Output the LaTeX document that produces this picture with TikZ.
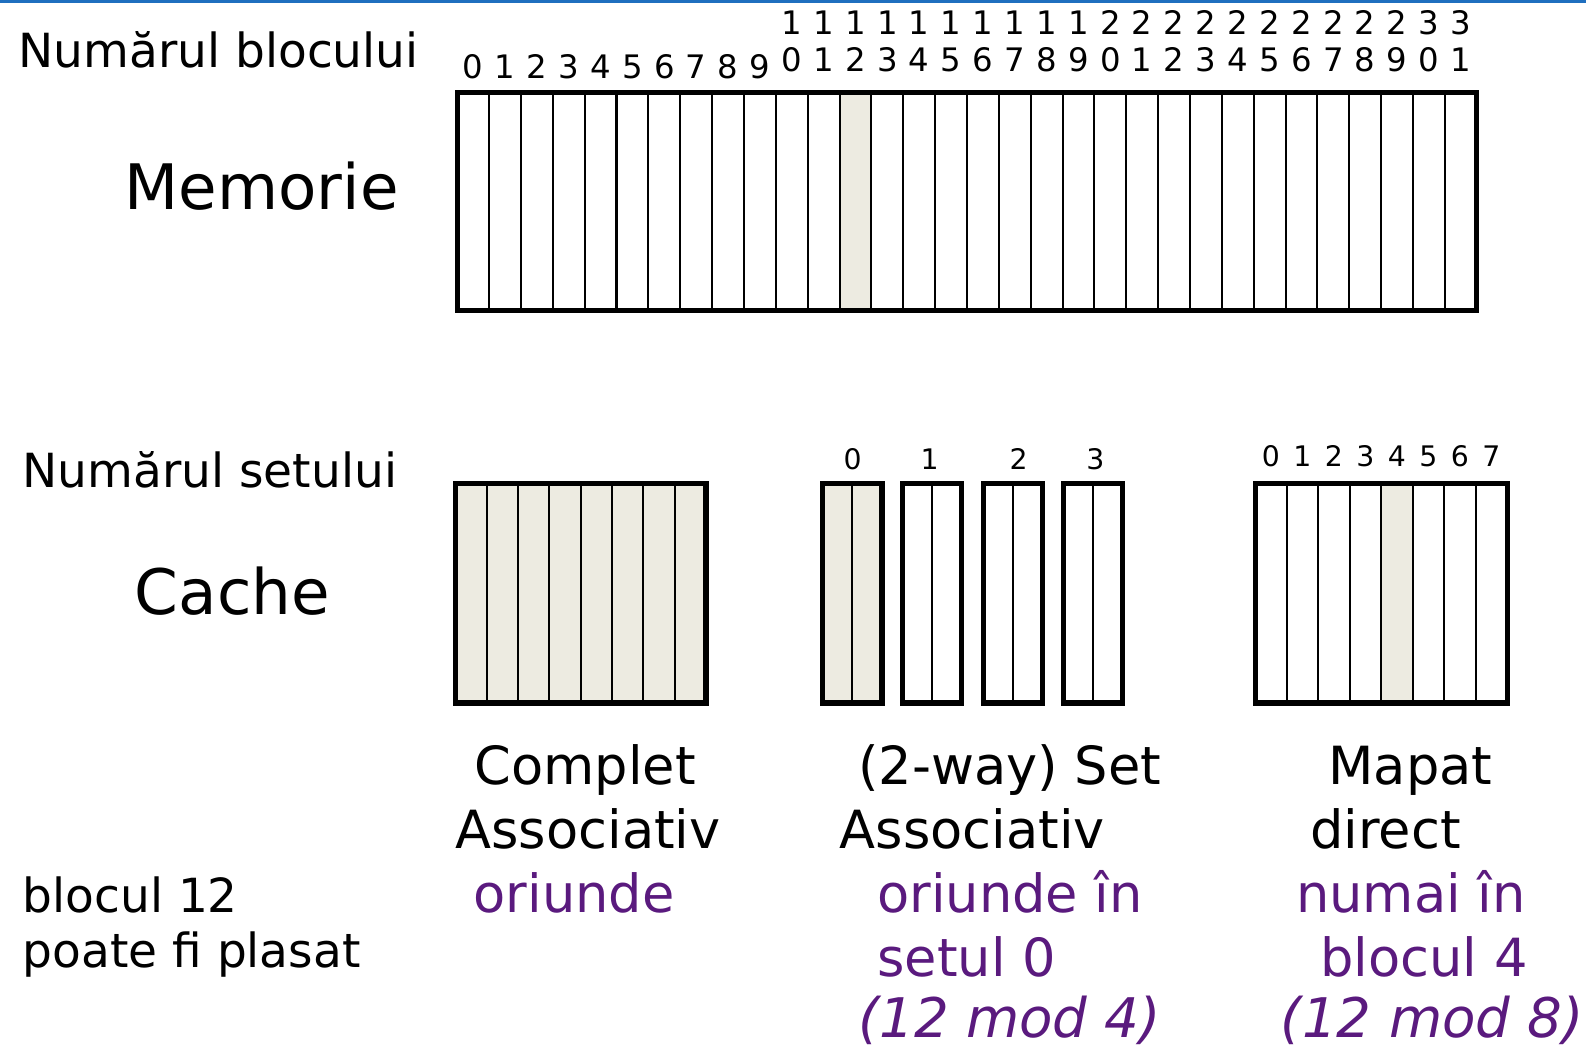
\documentclass[tikz,border=0pt]{standalone}
\usepackage{fontspec}
\setmainfont{DejaVu Sans}
\usepackage{tikz}
\usetikzlibrary{positioning}
\usepackage{xcolor}
\definecolor{hit}{HTML}{EDEBE1}
\definecolor{plum}{HTML}{5A1A7E}
\definecolor{topbar}{HTML}{1F6FBF}

\begin{document}
\begin{tikzpicture}[x=0.5pt,y=-0.5pt,
  txt/.style={inner sep=0pt, anchor=base west, font=\fontsize{23.25}{27}\selectfont},
  big/.style={inner sep=0pt, anchor=base west, font=\fontsize{31}{36}\selectfont},
  head/.style={inner sep=0pt, anchor=base west, font=\fontsize{26}{31}\selectfont},
  where/.style={head, text=plum},
  slant/.style={where, font=\fontsize{27}{31}\selectfont\itshape},
  num/.style={inner sep=0pt, anchor=base, font=\fontsize{14}{17}\selectfont},
  memnum/.style={num, font=\fontsize{16}{19}\selectfont},
  frame/.style={draw, line width=2.5pt},
  cell/.style={draw, line width=1pt}]
\useasboundingbox (0,0) rectangle (1568,1037);
\fill[topbar] (0,0) rectangle (1568,3);

% memorie
\node[txt] (nrbloc) at (18,67) {Numărul blocului};
\node[big] (mem) at (123,207) {Memorie};
\fill[hit] (830,91) rectangle (861.5,307);
\foreach \i in {1,...,31}
  \draw[cell] ({452+31.5*\i},91) -- ({452+31.5*\i},307);
\draw[frame] (452,91) rectangle (1460,307);
\foreach \i in {0,...,9}
  \node[memnum] (b\i) at ({467.75+31.5*\i},78) {\i};
\foreach \i in {10,...,31} {
  \pgfmathtruncatemacro\hi{\i/10}
  \pgfmathtruncatemacro\lo{mod(\i,10)}
  \node[memnum] (b\i) at ({467.75+31.5*\i},71) {\lo};
  \node[memnum, above=18.5pt of b\i.base, anchor=base] (h\i) {\hi};
}

% cache
\node[txt] (nrset) at (22,482) {Numărul setului};
\node[big] (cache) at (133,608) {Cache};

% complet asociativ
\fill[hit] (450,478) rectangle (698,695);
\foreach \i in {1,...,7}
  \draw[cell] ({450+31*\i},478) -- ++(0,217);
\draw[frame] (450,478) rectangle (698,695);

% set asociativ
\fill[hit] (813,478) rectangle (872,695);
\foreach \x/\c/\s in {813/843/0, 892/919/1, 972/1007/2, 1051/1083/3} {
  \draw[cell] (\x+29.5,478) -- ++(0,217);
  \draw[frame] (\x,478) rectangle ++(59,217);
  \node[num] (s\s) at (\c,464) {\s};
}

% mapat direct
\fill[hit] ({1241+4*31.125},478) rectangle ++(31.125,217);
\foreach \i in {1,...,7}
  \draw[cell] ({1241+31.125*\i},478) -- ++(0,217);
\draw[frame] (1241,478) rectangle (1490,695);
\foreach \i in {0,...,7}
  \node[num] (d\i) at ({1256.5+31.125*\i},461.5) {\i};

% etichete
\node[head] (fa1) at (469,776) {Complet};
\node[head] (fa2) at (450,839) {Associativ};
\node[where] (fa3) at (468,902) {oriunde};

\node[head] (sa1) at (848,776) {(2-way) Set};
\node[head] (sa2) at (830,839) {Associativ};
\node[where] (sa3) at (867,902) {oriunde în};
\node[where] (sa4) at (867,965) {setul 0};
\node[slant] (sa5) at (848,1026) {(12 mod 4)};

\node[head] (dm1) at (1313,776) {Mapat};
\node[head] (dm2) at (1295,839) {direct};
\node[where] (dm3) at (1281,902) {numai în};
\node[where] (dm4) at (1305,965) {blocul 4};
\node[slant] (dm5) at (1266,1026) {(12 mod 8)};

\node[txt] (pl1) at (22,902) {blocul 12};
\node[txt] (pl2) at (22,957) {poate fi plasat};
\end{tikzpicture}
\end{document}
